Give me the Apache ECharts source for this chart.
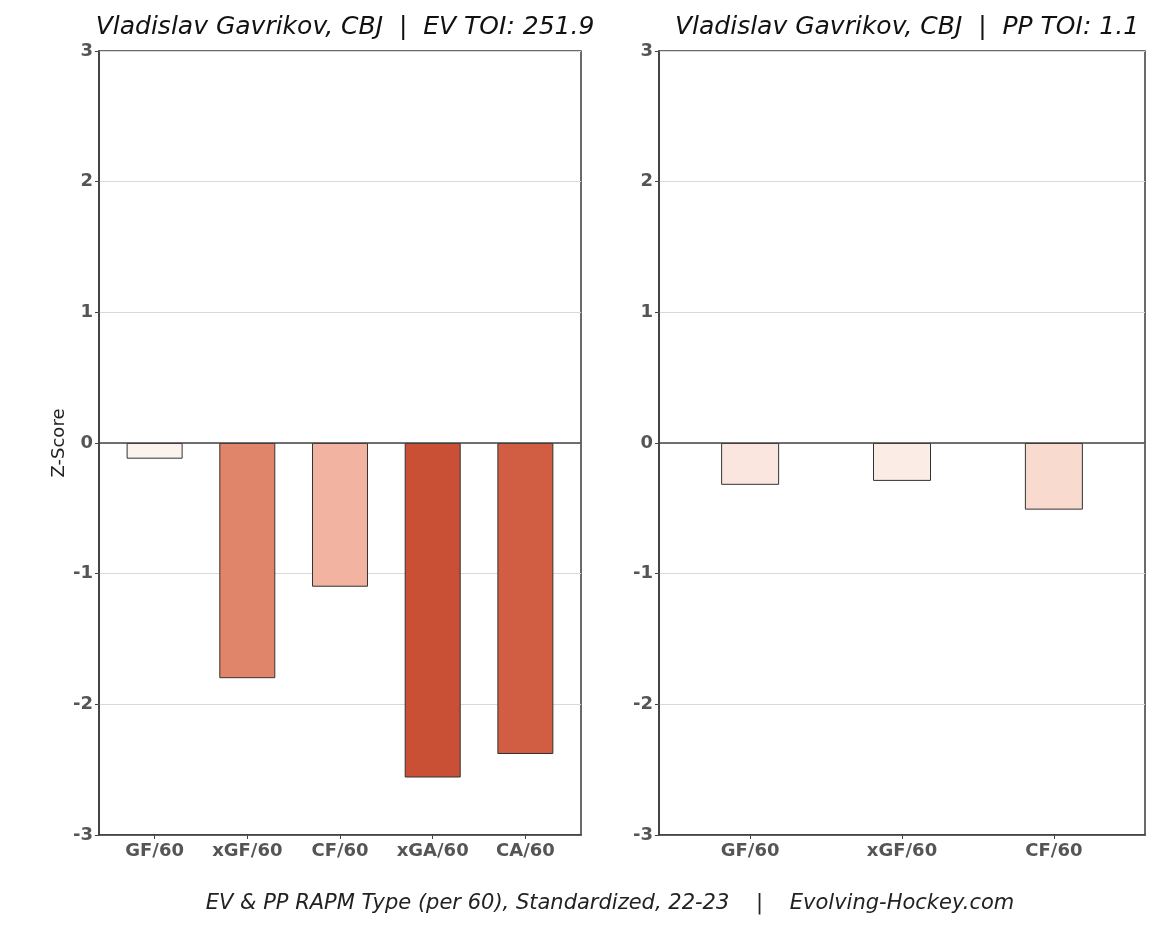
<!DOCTYPE html>
<html>
<head>
<meta charset="utf-8">
<script src="https://cdn.jsdelivr.net/npm/echarts@6/dist/echarts.min.js"></script>
<style>html,body{margin:0;padding:0;background:#fff}#c{width:1170px;height:936px}</style>
</head>
<body>
<div id="c"></div>
<script>
const evCategories = ['GF/60', 'xGF/60', 'CF/60', 'xGA/60', 'CA/60'];
const evValues = [-0.12, -1.80, -1.10, -2.56, -2.38];
const ppCategories = ['GF/60', 'xGF/60', 'CF/60'];
const ppValues = [-0.32, -0.29, -0.51];
const yTicks = [-3, -2, -1, 0, 1, 2, 3];
const evColors = ['#fcf3ee', '#e08569', '#f2b4a0', '#c94f35', '#d15e43'];
const ppColors = ['#fbe6df', '#fbece6', '#f9dacf'];
const titleEV = 'Vladislav Gavrikov, CBJ  |  EV TOI: 251.9';
const titlePP = 'Vladislav Gavrikov, CBJ  |  PP TOI: 1.1';
const footer = 'EV & PP RAPM Type (per 60), Standardized, 22-23    |    Evolving-Hockey.com';

const FONT = 'DejaVu Sans';
const chart = echarts.init(document.getElementById('c'));

function yAxis(idx, name) {
  return {
    type: 'value', gridIndex: idx, min: yTicks[0], max: yTicks[yTicks.length - 1], interval: 1,
    name: name, nameLocation: 'middle', nameGap: 31, nameRotate: 90,
    nameTextStyle: {fontFamily: FONT, fontSize: 18, color: '#222'},
    axisLine: {show: true, onZero: false, lineStyle: {color: '#3a3a3a', width: 1.5}},
    axisTick: {show: true, length: 4, lineStyle: {color: '#444'}},
    axisLabel: {fontFamily: FONT, fontWeight: 'bold', fontSize: 18, color: '#555', margin: 6},
    splitLine: {show: true, lineStyle: {color: '#d9d9d9', width: 1}}
  };
}
function xAxis(idx, cats) {
  const idxs = cats.map((c, i) => i);
  return {
    type: 'value', gridIndex: idx, min: -0.6, max: cats.length - 0.4,
    axisLine: {show: true, onZero: false, lineStyle: {color: '#3a3a3a', width: 1.5}},
    axisTick: {show: true, length: 4, customValues: idxs, lineStyle: {color: '#444'}},
    axisLabel: {fontFamily: FONT, fontWeight: 'bold', fontSize: 18, color: '#555', margin: 7,
                customValues: idxs, formatter: v => cats[Math.round(v)]},
    splitLine: {show: false}
  };
}
function barSeries(idx, vals, colors, bw) {
  return {
    type: 'bar', xAxisIndex: idx, yAxisIndex: idx, barWidth: bw,
    data: vals.map((v, i) => ({value: [i, v], itemStyle: {color: colors[i]}})),
    itemStyle: {borderColor: '#333', borderWidth: 1},
    silent: true,
    markLine: {
      silent: true, symbol: 'none', label: {show: false},
      lineStyle: {color: '#444', width: 1.5, type: 'solid'},
      data: [{yAxis: 0}]
    }
  };
}

chart.setOption({
  animation: false,
  title: [
    {text: titleEV, left: 340, top: 10, textAlign: 'center',
     textStyle: {fontFamily: FONT, fontStyle: 'italic', fontWeight: 'normal', fontSize: 25, color: '#111'}},
    {text: titlePP, left: 902, top: 10, textAlign: 'center',
     textStyle: {fontFamily: FONT, fontStyle: 'italic', fontWeight: 'normal', fontSize: 25, color: '#111'}},
    {text: footer, left: 605, top: 888, textAlign: 'center',
     textStyle: {fontFamily: FONT, fontStyle: 'italic', fontWeight: 'normal', fontSize: 21, color: '#222'}}
  ],
  grid: [
    {left: 99, right: 589, top: 51, bottom: 101, show: true, borderColor: '#3a3a3a', borderWidth: 1.5},
    {left: 659, right: 25, top: 51, bottom: 101, show: true, borderColor: '#3a3a3a', borderWidth: 1.5}
  ],
  xAxis: [xAxis(0, evCategories), xAxis(1, ppCategories)],
  yAxis: [yAxis(0, 'Z-Score'), yAxis(1, '')],
  series: [barSeries(0, evValues, evColors, 56), barSeries(1, ppValues, ppColors, 58)]
});
</script>
</body>
</html>
